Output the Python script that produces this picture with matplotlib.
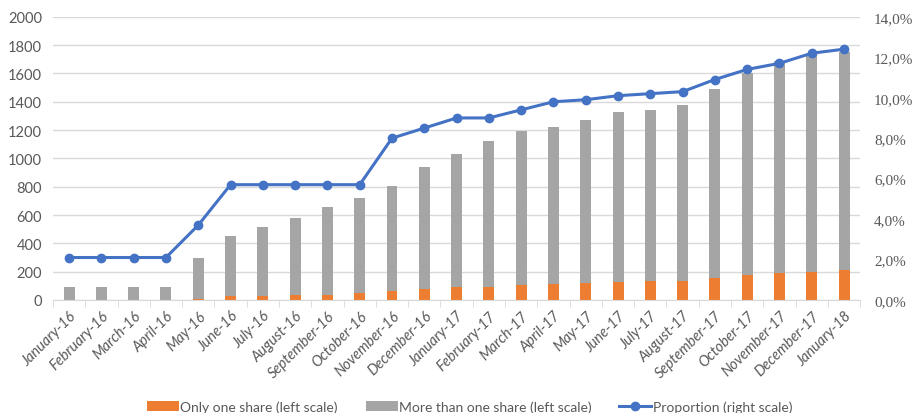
import matplotlib.pyplot as plt
import numpy as np
from matplotlib.ticker import FuncFormatter

# =========================
# DATA
# =========================
months = ["January-16", "February-16", "March-16", "April-16", "May-16", "June-16",
          "July-16", "August-16", "September-16", "October-16", "November-16",
          "December-16", "January-17", "February-17", "March-17", "April-17",
          "May-17", "June-17", "July-17", "August-17", "September-17",
          "October-17", "November-17", "December-17", "January-18"]

only_one = [2, 2, 2, 2, 5, 25, 25, 35, 35, 50, 60, 80, 95, 95, 105, 115,
            120, 125, 135, 135, 155, 175, 190, 200, 210]

total = [95, 95, 95, 95, 295, 450, 515, 580, 655, 720, 805, 940, 1030, 1125,
         1195, 1225, 1270, 1325, 1345, 1380, 1490, 1600, 1690, 1740, 1750]

more_than_one = [t - o for t, o in zip(total, only_one)]

proportion = [2.1, 2.1, 2.1, 2.1, 3.7, 5.7, 5.7, 5.7, 5.7, 5.7, 8.0, 8.5,
              9.0, 9.0, 9.4, 9.8, 9.9, 10.1, 10.2, 10.3, 10.9, 11.4, 11.7,
              12.2, 12.4]

ORANGE = "#ED7D31"
GRAY = "#A5A5A5"
BLUE = "#4472C4"
TXT = "#595959"

# =========================
# PLOT
# =========================
fig = plt.figure(figsize=(9.21, 4.14), dpi=100)
ax = fig.add_axes([0.0575, 0.273, 0.8765, 0.684])
x = np.arange(len(months))

b1 = ax.bar(x, only_one, width=0.34, color=ORANGE, zorder=2,
            label="Only one share (left scale)")
b2 = ax.bar(x, more_than_one, width=0.34, bottom=only_one, color=GRAY, zorder=2,
            label="More than one share (left scale)")

ax.set_ylim(0, 2000)
ax.set_yticks(range(0, 2001, 200))
ax.set_xlim(-0.5, len(months) - 0.5)
ax.grid(axis="y", color="#D9D9D9", linewidth=1, zorder=0)
for s in ["top", "right", "left"]:
    ax.spines[s].set_visible(False)
ax.spines["bottom"].set_color("#D9D9D9")
ax.tick_params(axis="y", length=0, labelsize=10.5, labelcolor=TXT, pad=8,
               labelfontfamily="Lato")

ax.set_xticks(x)
ax.set_xticklabels(months, rotation=45, ha="right", rotation_mode="anchor",
                   fontsize=10.5, color=TXT, fontstyle="italic",
                   fontfamily="Lato")
ax.tick_params(axis="x", length=0, pad=6)
ax.set_xticks(np.arange(-0.5, len(months)), minor=True)
ax.tick_params(axis="x", which="minor", length=5, color="#D9D9D9")

ax2 = ax.twinx()
ln, = ax2.plot(x, proportion, color=BLUE, linewidth=2.2, marker="o",
               markersize=6, zorder=3, label="Proportion (right scale)")
ax2.set_ylim(0, 14)
ax2.set_yticks(range(0, 15, 2))
ax2.yaxis.set_major_formatter(FuncFormatter(lambda v, p: f"{v:.1f}%".replace(".", ",")))
for s in ["top", "right", "left", "bottom"]:
    ax2.spines[s].set_visible(False)
ax2.tick_params(axis="y", length=0, labelsize=11, labelcolor=TXT, pad=10,
                labelfontfamily="Liberation Serif")

fig.legend(handles=[b1, b2, ln], loc="lower center", bbox_to_anchor=(0.51, -0.03),
           ncol=3, frameon=False, columnspacing=2.0, handlelength=2.3,
           handletextpad=0.1, prop={"family": "Lato", "size": 10},
           labelcolor=TXT)

fig.savefig("out.png", dpi=100)
